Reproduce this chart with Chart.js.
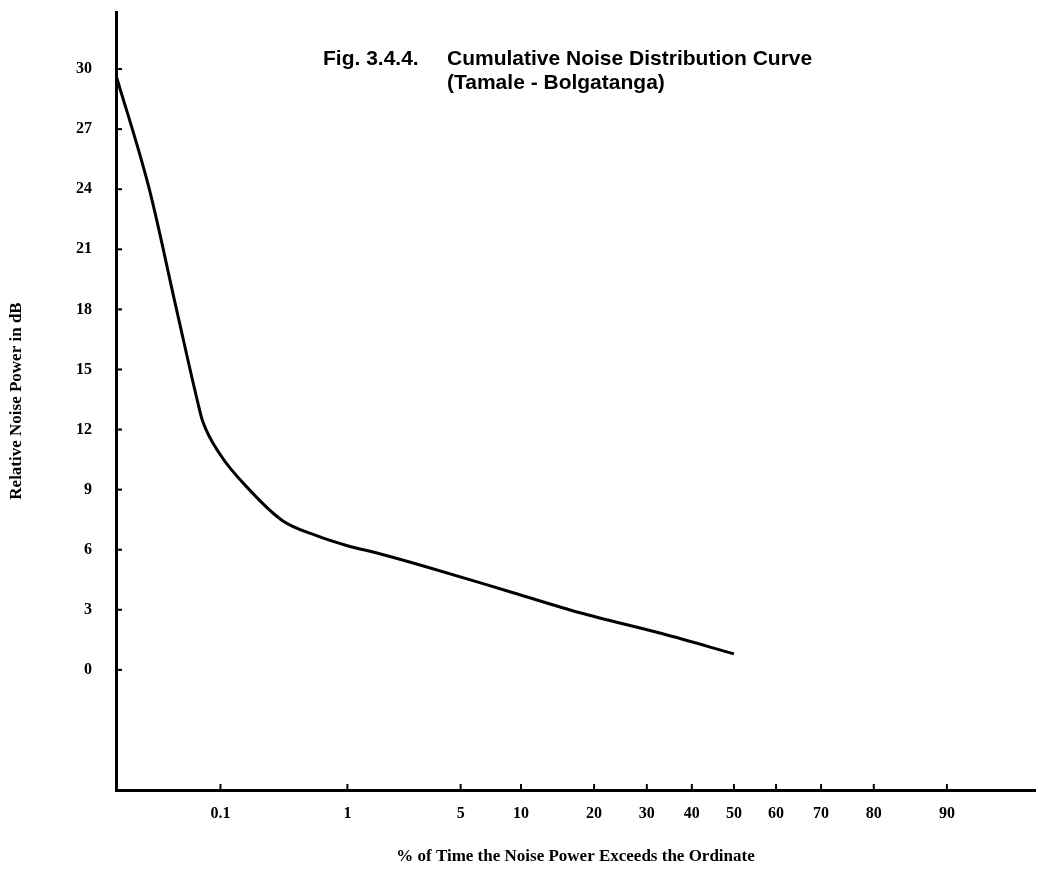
<!DOCTYPE html>
<html>
<head>
<meta charset="utf-8">
<title>Cumulative Noise Distribution Curve</title>
<script src="https://cdn.jsdelivr.net/npm/chart.js@4.4.1/dist/chart.umd.min.js"></script>
<style>
  html, body { margin: 0; padding: 0; background: #fff; }
  #wrap { width: 1038px; height: 871px; position: relative; }
</style>
</head>
<body>
<div id="wrap"><canvas id="chart"></canvas></div>
<script>
// % of time the noise power exceeds the ordinate, and the noise power (dB)
const percentTime = [0.01, 0.0217, 0.0397, 0.062, 0.069, 0.098, 0.18, 0.33, 0.6, 1.0, 1.65, 3.05, 9.2, 17.7, 33.4, 50];
const noisePower = [29.7, 24.0, 18.0, 13.45, 12.45, 10.8, 8.95, 7.45, 6.7, 6.2, 5.8, 5.2, 3.85, 2.85, 1.8, 0.8];
const xTicks = [0.1, 1, 5, 10, 20, 30, 40, 50, 60, 70, 80, 90];
const yTicks = [0, 3, 6, 9, 12, 15, 18, 21, 24, 27, 30];

// inverse normal cdf (Acklam)
function normInv(p) {
  const a = [-39.69683028665376, 220.9460984245205, -275.9285104469687, 138.3577518672690, -30.66479806614716, 2.506628277459239];
  const b = [-54.47609879822406, 161.5858368580409, -155.6989798598866, 66.80131188771972, -13.28068155288572];
  const c = [-0.007784894002430293, -0.3223964580411365, -2.400758277161838, -2.549732539343734, 4.374664141464968, 2.938163982698783];
  const d = [0.007784695709041462, 0.3224671290700398, 2.445134137142996, 3.754408661907416];
  const pl = 0.02425;
  let q, r;
  if (p < pl) {
    q = Math.sqrt(-2 * Math.log(p));
    return (((((c[0]*q+c[1])*q+c[2])*q+c[3])*q+c[4])*q+c[5]) / ((((d[0]*q+d[1])*q+d[2])*q+d[3])*q+1);
  }
  if (p > 1 - pl) {
    q = Math.sqrt(-2 * Math.log(1 - p));
    return -(((((c[0]*q+c[1])*q+c[2])*q+c[3])*q+c[4])*q+c[5]) / ((((d[0]*q+d[1])*q+d[2])*q+d[3])*q+1);
  }
  q = p - 0.5; r = q * q;
  return (((((a[0]*r+a[1])*r+a[2])*r+a[3])*r+a[4])*r+a[5])*q / (((((b[0]*r+b[1])*r+b[2])*r+b[3])*r+b[4])*r+1);
}

function normCdf(z) {
  const t = 1 / (1 + 0.3275911 * Math.abs(z) / Math.SQRT2);
  const y = 1 - (((((1.061405429*t - 1.453152027)*t) + 1.421413741)*t - 0.284496736)*t + 0.254829592)*t * Math.exp(-z*z/2);
  return z >= 0 ? (1 + y) / 2 : (1 - y) / 2;
}

// probability paper axis
class ProbabilityScale extends Chart.LinearScale {
  determineDataLimits() {
    this.min = this.options.min;
    this.max = this.options.max;
  }
  buildTicks() {
    this.start = this.min;
    this.end = this.max;
    return xTicks.map(v => ({ value: v }));
  }
  configure() {
    super.configure();
    this._zStart = normInv(this.min / 100);
    this._zRange = normInv(this.max / 100) - this._zStart;
  }
  getPixelForValue(value) {
    return this.getPixelForDecimal((normInv(value / 100) - this._zStart) / this._zRange);
  }
  getValueForPixel(pixel) {
    return 100 * normCdf(this._zStart + this.getDecimalForPixel(pixel) * this._zRange);
  }
}
ProbabilityScale.id = "probability";
ProbabilityScale.defaults = {};
Chart.register(ProbabilityScale);

const serif = { family: "'Liberation Serif', 'Times New Roman', serif", size: 16, weight: "bold" };
const serifTitle = { family: "'Liberation Serif', 'Times New Roman', serif", size: 17, weight: "bold" };

const innerTicks = {
  id: "innerTicks",
  afterDraw(chart) {
    const { ctx, chartArea, scales } = chart;
    ctx.save();
    ctx.strokeStyle = "#000";
    ctx.lineWidth = 2;
    scales.y.ticks.forEach(t => {
      const py = scales.y.getPixelForValue(t.value);
      ctx.beginPath();
      ctx.moveTo(chartArea.left, py);
      ctx.lineTo(chartArea.left + 6, py);
      ctx.stroke();
    });
    scales.x.ticks.forEach(t => {
      const px = scales.x.getPixelForValue(t.value);
      ctx.beginPath();
      ctx.moveTo(px, chartArea.bottom);
      ctx.lineTo(px, chartArea.bottom - 6);
      ctx.stroke();
    });
    ctx.restore();
  }
};

const figTitle = {
  id: "figTitle",
  afterDraw(chart) {
    const ctx = chart.ctx;
    ctx.save();
    ctx.fillStyle = "#000";
    ctx.font = "bold 21px 'Liberation Sans', Arial, sans-serif";
    ctx.textBaseline = "alphabetic";
    ctx.fillText("Fig. 3.4.4.", 323, 65);
    ctx.fillText("Cumulative Noise Distribution Curve", 447, 65);
    ctx.fillText("(Tamale - Bolgatanga)", 447, 89);
    ctx.restore();
  }
};

const ctx = document.getElementById("chart").getContext("2d");
new Chart(ctx, {
  type: "line",
  data: {
    datasets: [
      {
        label: "Tamale - Bolgatanga",
        data: percentTime.map((p, i) => ({ x: p, y: noisePower[i] })),
        borderColor: "#000",
        borderWidth: 3,
        pointRadius: 0,
        fill: false,
        cubicInterpolationMode: "monotone",
      },
    ],
  },
  options: {
    responsive: true,
    maintainAspectRatio: false,
    animation: false,
    layout: { padding: { top: 12, right: 3, left: 0, bottom: 0 } },
    plugins: {
      legend: { display: false },
      tooltip: { enabled: false },
    },
    scales: {
      x: {
        type: "probability",
        min: 0.01,
        max: 96.5,
        afterFit: s => { s.height = 81; s.paddingLeft = 0; s.paddingRight = 0; },
        grid: { drawOnChartArea: false, drawTicks: false },
        border: { display: true, color: "#000", width: 3 },
        ticks: {
          color: "#000",
          font: serif,
          padding: 14,
          maxRotation: 0,
          autoSkip: false,
          callback: v => String(v),
        },
        title: {
          display: true,
          text: "% of Time the Noise Power Exceeds the Ordinate",
          color: "#000",
          font: serifTitle,
          padding: { top: 4, bottom: 4 },
        },
      },
      y: {
        type: "linear",
        min: -6,
        max: 32.85,
        afterFit: s => { s.width = 116; s.paddingTop = 0; s.paddingBottom = 0; },
        afterBuildTicks: s => { s.ticks = yTicks.map(v => ({ value: v })); },
        grid: { drawOnChartArea: false, drawTicks: false },
        border: { display: true, color: "#000", width: 3 },
        ticks: {
          color: "#000",
          font: serif,
          padding: 24,
          callback: v => String(v),
        },
        title: {
          display: true,
          text: "Relative Noise Power in dB",
          color: "#000",
          font: serifTitle,
          padding: { top: 6, bottom: 4 },
        },
      },
    },
  },
  plugins: [innerTicks, figTitle],
});
</script>
</body>
</html>
